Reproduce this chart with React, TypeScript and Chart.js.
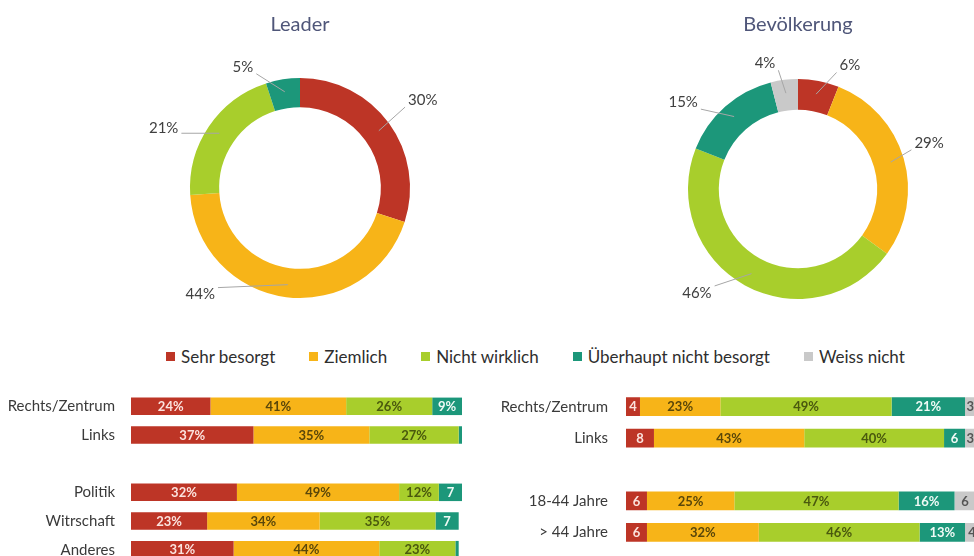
import React, { useEffect, useRef } from 'react';
import { Chart, registerables } from 'chart.js';

Chart.register(...registerables);

// ---------- data ----------
const seriesNames = ['Sehr besorgt', 'Ziemlich', 'Nicht wirklich', 'Überhaupt nicht besorgt', 'Weiss nicht'];
const seriesColors = ['#BD3526', '#F7B418', '#A8CE2C', '#1C977A', '#C9C9C9'];
const barTextColors = ['#FBE3DE', '#5A470A', '#4A590E', '#F0FAF6', '#555555'];

const leaderTitle = 'Leader';
const leaderValues = [30, 44, 21, 5];

const popTitle = 'Bevölkerung';
const popValues = [6, 29, 46, 15, 4];

const leftCategories = ['Rechts/Zentrum', 'Links', '', 'Politik', 'Witrschaft', 'Anderes'];
const leftSehr = [24, 37, null, 32, 23, 31];
const leftZiemlich = [41, 35, null, 49, 34, 44];
const leftNicht = [26, 27, null, 12, 35, 23];
const leftUeberhaupt = [9, 1, null, 7, 7, 1];

const rightCategories = ['Rechts/Zentrum', 'Links', '', '18-44 Jahre', '> 44 Jahre'];
const rightSehr = [4, 8, null, 6, 6];
const rightZiemlich = [23, 43, null, 25, 32];
const rightNicht = [49, 40, null, 47, 46];
const rightUeberhaupt = [21, 6, null, 16, 13];
const rightWeiss = [3, 3, null, 6, 4];

// ---------- styling ----------
const FONT = 'Lato, "Open Sans", sans-serif';
const TITLE_COLOR = '#4F5679';
const TEXT_COLOR = '#3A3A3A';

// label placement around the doughnuts (angle clockwise from top in degrees, distance from centre)
const leaderLabelPlacement = [
  { angle: 54.4, dist: 151 },
  { angle: 223.1, dist: 146 },
  { angle: 293.8, dist: 149 },
  { angle: 334.8, dist: 134 },
];
const popLabelPlacement = [
  { angle: 22.8, dist: 134 },
  { angle: 70.6, dist: 139 },
  { angle: 224.2, dist: 145 },
  { angle: 307.1, dist: 144 },
  { angle: 345.3, dist: 130 },
];

const donutLabelPlugin = {
  id: 'donutLabels',
  afterDatasetsDraw(chart: any, _args: any, opts: any) {
    const meta = chart.getDatasetMeta(0);
    const data = chart.data.datasets[0].data;
    const ctx = chart.ctx;
    ctx.save();
    ctx.font = opts.font;
    ctx.textAlign = 'center';
    ctx.textBaseline = 'middle';
    meta.data.forEach((arc: any, i: number) => {
      const p = arc.getProps(['x', 'y', 'startAngle', 'endAngle', 'innerRadius', 'outerRadius'], true);
      const mid = (p.startAngle + p.endAngle) / 2;
      const ar = (p.innerRadius + p.outerRadius) / 2 + 2;
      const ax = p.x + Math.cos(mid) * ar;
      const ay = p.y + Math.sin(mid) * ar;
      const pl = opts.placement[i];
      const th = ((pl.angle - 90) * Math.PI) / 180;
      const lx = p.x + Math.cos(th) * pl.dist;
      const ly = p.y + Math.sin(th) * pl.dist;
      const text = data[i] + '%';
      const w = ctx.measureText(text).width;
      const left = lx - w / 2 - 3;
      const right = lx + w / 2 + 3;
      const top = ly - 7;
      const bottom = ly + 7;
      const px = Math.min(Math.max(ax, left), right);
      const py = Math.min(Math.max(ay, top), bottom);
      ctx.strokeStyle = opts.lineColor;
      ctx.lineWidth = 1;
      ctx.beginPath();
      ctx.moveTo(ax, ay);
      ctx.lineTo(px, py);
      ctx.stroke();
      ctx.fillStyle = opts.color;
      ctx.fillText(text, lx, ly);
    });
    ctx.restore();
  },
};

const barLabelPlugin = {
  id: 'barLabels',
  afterDatasetsDraw(chart: any, _args: any, opts: any) {
    const ctx = chart.ctx;
    ctx.save();
    ctx.font = opts.font;
    ctx.textAlign = 'center';
    ctx.textBaseline = 'middle';
    chart.data.datasets.forEach((ds: any, di: number) => {
      const meta = chart.getDatasetMeta(di);
      meta.data.forEach((bar: any, i: number) => {
        const v = ds.data[i];
        if (v == null || v < 2) return;
        const p = bar.getProps(['x', 'y', 'base'], true);
        ctx.fillStyle = opts.colors[di];
        ctx.fillText(v >= 9 ? v + '%' : String(v), (p.x + p.base) / 2, p.y + 0.5);
      });
    });
    ctx.restore();
  },
};

function donutConfig(title: string, values: number[], placement: any[], cutout: string, titleBottom: number) {
  return {
    type: 'doughnut' as const,
    data: {
      labels: seriesNames.slice(0, values.length),
      datasets: [
        {
          data: values,
          backgroundColor: seriesColors.slice(0, values.length),
          borderWidth: 0,
        },
      ],
    },
    options: {
      animation: false as const,
      responsive: false,
      radius: 110,
      cutout,
      layout: { padding: 0 },
      plugins: {
        legend: { display: false },
        tooltip: { enabled: false },
        title: {
          display: true,
          text: title,
          color: TITLE_COLOR,
          font: { family: FONT, size: 20, weight: 'normal' as const, lineHeight: 1.2 },
          padding: { top: 13, bottom: titleBottom },
        },
        donutLabels: {
          placement,
          font: `15px ${FONT}`,
          color: '#404040',
          lineColor: '#A6A6A6',
        },
      },
    },
    plugins: [donutLabelPlugin],
  };
}

function barConfig(categories: string[], series: (number | null)[][], axisWidth: number, pad: any, tickPad: number, thickness: number) {
  return {
    type: 'bar' as const,
    data: {
      labels: categories,
      datasets: series.map((d, i) => ({
        label: seriesNames[i],
        data: d,
        backgroundColor: seriesColors[i],
        borderWidth: 0,
        barPercentage: thickness,
        categoryPercentage: 1,
      })),
    },
    options: {
      animation: false as const,
      responsive: false,
      indexAxis: 'y' as const,
      layout: { padding: pad, autoPadding: false },
      scales: {
        x: { stacked: true, min: 0, max: 100, display: false },
        y: {
          stacked: true,
          grid: { display: false, drawTicks: false },
          border: { display: false },
          ticks: { color: TEXT_COLOR, font: { family: FONT, size: 15 }, padding: tickPad },
          afterFit(s: any) {
            s.width = axisWidth;
            s.paddingTop = 0;
            s.paddingBottom = 0;
            s.paddingLeft = 0;
            s.paddingRight = 0;
          },
        },
      },
      plugins: {
        legend: { display: false },
        tooltip: { enabled: false },
        barLabels: { font: `bold 13px ${FONT}`, colors: barTextColors },
      },
    },
    plugins: [barLabelPlugin],
  };
}

export default function App() {
  const leaderRef = useRef<HTMLCanvasElement>(null);
  const popRef = useRef<HTMLCanvasElement>(null);
  const leftRef = useRef<HTMLCanvasElement>(null);
  const rightRef = useRef<HTMLCanvasElement>(null);

  useEffect(() => {
    const charts: Chart[] = [
      new Chart(leaderRef.current as HTMLCanvasElement, donutConfig(leaderTitle, leaderValues, leaderLabelPlacement, '73.5%', 19) as any),
      new Chart(popRef.current as HTMLCanvasElement, donutConfig(popTitle, popValues, popLabelPlacement, '72%', 21) as any),
      new Chart(
        leftRef.current as HTMLCanvasElement,
        barConfig(leftCategories, [leftSehr, leftZiemlich, leftNicht, leftUeberhaupt], 131, { top: 12, right: 8, bottom: 0, left: 0 }, 16, 0.61) as any
      ),
      new Chart(
        rightRef.current as HTMLCanvasElement,
        barConfig(rightCategories, [rightSehr, rightZiemlich, rightNicht, rightUeberhaupt, rightWeiss], 146, { top: 11, right: 4.5, bottom: 0, left: 0 }, 18, 0.6) as any
      ),
    ];
    return () => charts.forEach((c) => c.destroy());
  }, []);

  const abs = (left: number, top: number, width: number, height: number): React.CSSProperties => ({
    position: 'absolute',
    left,
    top,
    width,
    height,
  });

  return (
    <div
      style={{
        position: 'absolute',
        left: 0,
        top: 0,
        width: 974,
        height: 556,
        overflow: 'hidden',
        background: '#FFFFFF',
        fontFamily: FONT,
      }}
    >
      <canvas ref={leaderRef} width={340} height={320} style={abs(130, 0, 340, 320)} />
      <canvas ref={popRef} width={340} height={320} style={abs(628, 0, 340, 320)} />
      <canvas ref={leftRef} width={470} height={184} style={abs(0, 380, 470, 184)} />
      <canvas ref={rightRef} width={500} height={168} style={abs(480, 380, 500, 168)} />
      <div
        style={{
          position: 'absolute',
          left: 166,
          top: 345,
          height: 22,
          display: 'flex',
          alignItems: 'center',
          gap: 34,
          fontSize: 17,
          color: '#2E2E2E',
          whiteSpace: 'nowrap',
        }}
      >
        {seriesNames.map((name, i) => (
          <div key={name} style={{ display: 'flex', alignItems: 'center' }}>
            <span style={{ display: 'inline-block', width: 9, height: 9, background: seriesColors[i], marginRight: 6 }} />
            <span>{name}</span>
          </div>
        ))}
      </div>
    </div>
  );
}
